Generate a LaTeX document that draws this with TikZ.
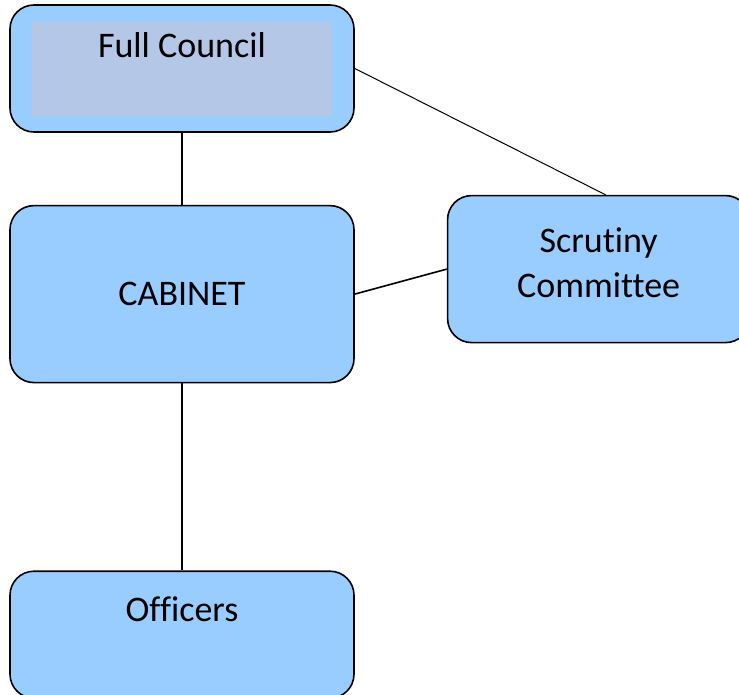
\documentclass[tikz,border=0pt]{standalone}
\usepackage{fontspec}
\setmainfont{Carlito}[Ligatures=NoCommon]
\usetikzlibrary{positioning}
\definecolor{boxblue}{HTML}{99CCFF}
\definecolor{innerblue}{HTML}{B4C7E7}
\tikzstyle{block} = [rectangle, draw, line width=1.6pt, fill=boxblue,
    rounded corners=24pt, inner sep=0pt, text centered,
    font=\fontsize{36pt}{45pt}\selectfont]

\begin{document}
\begin{tikzpicture}[line width=1.6pt]
  \useasboundingbox (0,0) rectangle (739pt,-695pt);

  \node[block, minimum width=344pt, text height=53pt, text depth=74pt,
        path picture={\fill[innerblue, sharp corners]
          ([shift={(22pt,-17pt)}]path picture bounding box.north west) rectangle
          ([shift={(-22pt,16pt)}]path picture bounding box.south east);}]
        (council) at (182pt,-68.5pt) {Full Council};
  \node[block, minimum width=344pt, text height=100pt, text depth=77pt]
        (cabinet) [below=72pt of council] {CABINET};
  \node[block, minimum width=302pt, minimum height=147pt, align=center]
        (scrutiny) [right=92pt of cabinet, yshift=25pt]
        {\raisebox{12pt}{Scrutiny}\\\raisebox{12pt}{Committee}};
  \node[block, minimum width=344pt, text height=50pt, text depth=77pt]
        (officers) [below=187pt of cabinet] {Officers};

  \draw (council.south) -- (cabinet.north);
  \draw (cabinet.east) -- (scrutiny.west);
  \draw[line width=1pt] (council.east) -- ([xshift=7pt]scrutiny.north);
  \draw (cabinet.south) -- (officers.north);
\end{tikzpicture}
\end{document}
